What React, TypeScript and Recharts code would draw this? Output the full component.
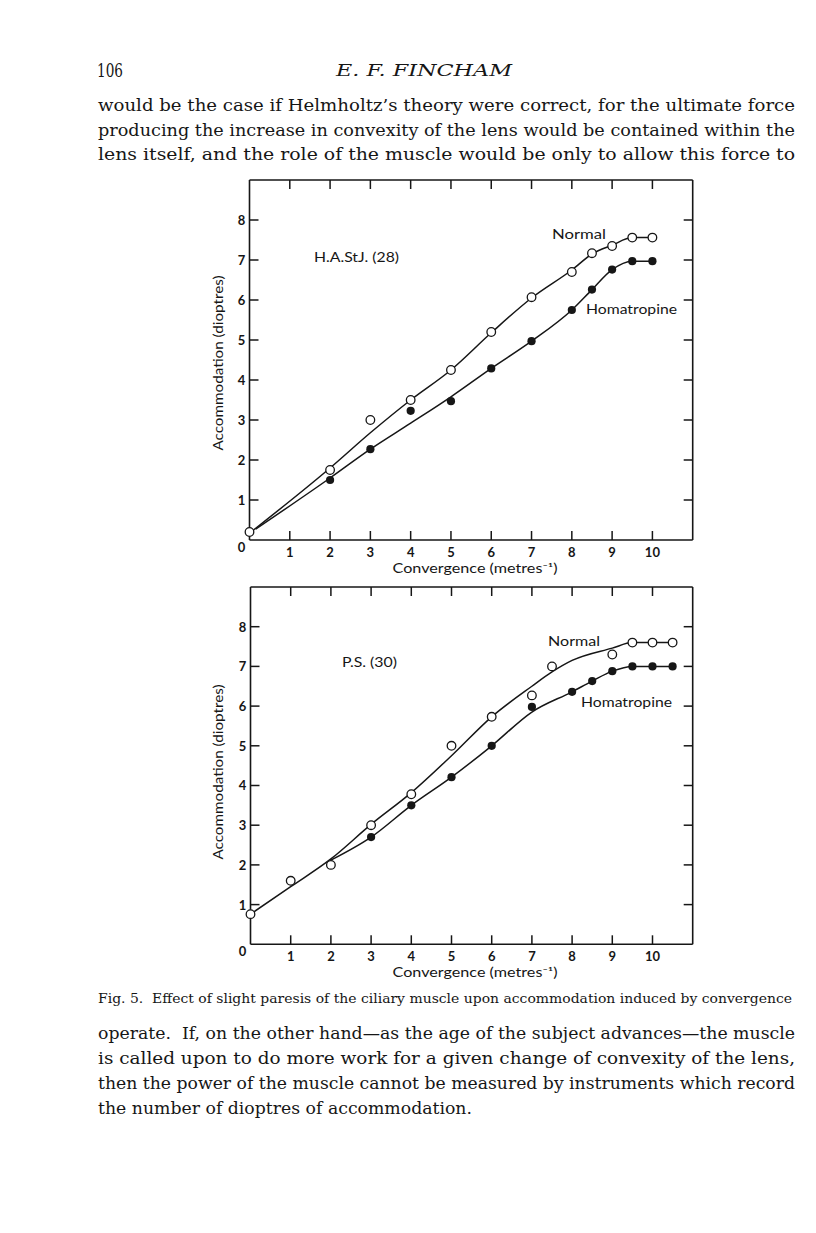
import React from "react"
import { ComposedChart, Line, Scatter, XAxis, YAxis } from "recharts"

const convTicks = [1, 2, 3, 4, 5, 6, 7, 8, 9, 10]
const accTicks = [0, 1, 2, 3, 4, 5, 6, 7, 8]
const accTicksRight = [1, 2, 3, 4, 5, 6, 7, 8]

// H.A.StJ. (28)
const hasNormalConv = [0, 2, 3, 4, 5, 6, 7, 8, 8.5, 9, 9.5, 10]
const hasNormalAcc = [0.2, 1.75, 3.0, 3.5, 4.25, 5.2, 6.07, 6.7, 7.17, 7.35, 7.56, 7.56]
const hasHomatConv = [2, 3, 4, 5, 6, 7, 8, 8.5, 9, 9.5, 10]
const hasHomatAcc = [1.5, 2.27, 3.23, 3.47, 4.29, 4.97, 5.75, 6.26, 6.76, 6.97, 6.97]
const hasNormalFitConv = [0.1, 2, 3, 4, 5, 6, 7, 8, 8.5, 9, 9.5, 10]
const hasNormalFitAcc = [0.25, 1.8, 2.68, 3.5, 4.25, 5.18, 6.05, 6.75, 7.15, 7.37, 7.56, 7.56]
const hasHomatFitConv = [0.15, 2, 3, 4, 5, 6, 7, 8, 8.5, 9, 9.5, 10]
const hasHomatFitAcc = [0.27, 1.55, 2.27, 2.92, 3.58, 4.29, 4.97, 5.75, 6.26, 6.76, 6.97, 6.97]

// P.S. (30)
const psNormalConv = [0, 1, 2, 3, 4, 5, 6, 7, 7.5, 9, 9.5, 10, 10.5]
const psNormalAcc = [0.76, 1.6, 2.0, 3.0, 3.78, 5.0, 5.73, 6.27, 7.0, 7.3, 7.6, 7.6, 7.6]
const psHomatConv = [3, 4, 5, 6, 7, 8, 8.5, 9, 9.5, 10, 10.5]
const psHomatAcc = [2.7, 3.5, 4.21, 5.0, 5.98, 6.36, 6.63, 6.88, 7.0, 7.0, 7.0]
const psNormalFitConv = [0, 1, 2, 3, 4, 5, 6, 7, 7.5, 8, 9, 9.5, 10, 10.5]
const psNormalFitAcc = [0.76, 1.45, 2.15, 3.02, 3.82, 4.75, 5.73, 6.5, 6.86, 7.15, 7.46, 7.6, 7.6, 7.6]
const psHomatFitConv = [2, 3, 4, 5, 6, 7, 8, 8.5, 9, 9.5, 10, 10.5]
const psHomatFitAcc = [2.12, 2.7, 3.5, 4.21, 5.0, 5.85, 6.36, 6.63, 6.88, 7.0, 7.0, 7.0]

const pageTop = ["106", "E. F. FINCHAM"]
const paraBefore = [
  "would be the case if Helmholtz\u2019s theory were correct, for the ultimate force",
  "producing the increase in convexity of the lens would be contained within the",
  "lens itself, and the role of the muscle would be only to allow this force to",
]
const caption = "Fig. 5.  Effect of slight paresis of the ciliary muscle upon accommodation induced by convergence"
const paraAfter = [
  "operate.  If, on the other hand\u2014as the age of the subject advances\u2014the muscle",
  "is called upon to do more work for a given change of convexity of the lens,",
  "then the power of the muscle cannot be measured by instruments which record",
  "the number of dioptres of accommodation.",
]

const ink = "#161616"
const sans = "Lato, 'Open Sans', sans-serif"
const serif = "'DejaVu Serif', serif"

const pts = (xs: number[], ys: number[]) => xs.map((x, i) => ({ x, y: ys[i] }))

const openDot = (p: any) => (
  <circle cx={p.cx} cy={p.cy} r={4.3} fill="#fff" stroke={ink} strokeWidth={1.3} />
)
const fullDot = (p: any) => <circle cx={p.cx} cy={p.cy} r={4.1} fill={ink} />

const leftTick = (p: any) => (
  <g>
    {p.payload.value !== 0 && <line x1={p.x} x2={p.x + 9} y1={p.y} y2={p.y} stroke={ink} strokeWidth={1.5} />}
    <text x={p.x - 8} y={p.payload.value === 0 ? p.y + 7 : p.y} textAnchor="middle" dominantBaseline="central"
      fontFamily={sans} fontWeight={700} fontSize={13} fill={ink}>{p.payload.value}</text>
  </g>
)
const rightTick = (p: any) => <line x1={p.x} x2={p.x - 9} y1={p.y} y2={p.y} stroke={ink} strokeWidth={1.5} />
const topTick = (p: any) => <line x1={p.x} x2={p.x} y1={p.y} y2={p.y + 9} stroke={ink} strokeWidth={1.5} />
const bottomTick = (p: any) => (
  <g>
    <line x1={p.x} x2={p.x} y1={p.y} y2={p.y - 9} stroke={ink} strokeWidth={1.5} />
    <text x={p.x} y={p.y + 12} textAnchor="middle" dominantBaseline="central"
      fontFamily={sans} fontWeight={700} fontSize={13} fill={ink}>{p.payload.value}</text>
  </g>
)

type PlotProps = {
  plotLeft: number
  plotTop: number
  plotW: number
  plotH: number
  normal: { x: number; y: number }[]
  homat: { x: number; y: number }[]
  normalFit: { x: number; y: number }[]
  homatFit: { x: number; y: number }[]
}

// axis band sizes (the box is drawn by the four axis lines)
const topBand = 20
const bottomBand = 30
const leftBand = 30
const rightBand = 10

function AccommodationPlot({ plotLeft, plotTop, plotW, plotH, normal, homat, normalFit, homatFit }: PlotProps) {
  const boxLeft = 150
  const boxTop = plotTop - topBand
  const width = 600
  const height = plotH + topBand + bottomBand + 30
  const ml = plotLeft - boxLeft - leftBand
  const mr = width - (plotLeft - boxLeft) - plotW - rightBand
  const axisLine = { stroke: ink, strokeWidth: 1.6 }
  return (
    <div style={{ position: "absolute", left: boxLeft, top: boxTop, width, height }}>
      <ComposedChart width={width} height={height}
        margin={{ top: 0, left: ml, right: mr, bottom: 30 }}>
        <XAxis xAxisId="b" orientation="bottom" type="number" dataKey="x" domain={[0, 11]} ticks={convTicks}
          interval={0} height={bottomBand} tickSize={0} tickMargin={0} tickLine={false} axisLine={axisLine} tick={bottomTick} />
        <XAxis xAxisId="t" orientation="top" type="number" dataKey="x" domain={[0, 11]} ticks={convTicks}
          interval={0} height={topBand} tickSize={0} tickMargin={0} tickLine={false} axisLine={axisLine} tick={topTick} />
        <YAxis yAxisId="l" orientation="left" type="number" domain={[0, 9]} ticks={accTicks}
          interval={0} width={leftBand} tickSize={0} tickMargin={0} tickLine={false} axisLine={axisLine} tick={leftTick} />
        <YAxis yAxisId="r" orientation="right" type="number" domain={[0, 9]} ticks={accTicksRight}
          interval={0} width={rightBand} tickSize={0} tickMargin={0} tickLine={false} axisLine={axisLine} tick={rightTick} />
        {/* invisible copy so the top and right axes have a series bound to them */}
        <Line xAxisId="t" yAxisId="r" data={normalFit} dataKey="y" type="monotone" stroke="none"
          dot={false} activeDot={false} legendType="none" isAnimationActive={false} />
        <Line xAxisId="b" yAxisId="l" data={normalFit} dataKey="y" type="monotone" stroke={ink}
          strokeWidth={1.5} dot={false} isAnimationActive={false} />
        <Line xAxisId="b" yAxisId="l" data={homatFit} dataKey="y" type="monotone" stroke={ink}
          strokeWidth={1.5} dot={false} isAnimationActive={false} />
        <Scatter xAxisId="b" yAxisId="l" data={normal} dataKey="y" shape={openDot} isAnimationActive={false} />
        <Scatter xAxisId="b" yAxisId="l" data={homat} dataKey="y" shape={fullDot} isAnimationActive={false} />
      </ComposedChart>
    </div>
  )
}

function T(props: { x: number; y: number; len?: number; size: number; font?: string; italic?: boolean; anchor?: string; rotate?: boolean; children: string }) {
  const { x, y, len, size, font = serif, italic, anchor = "start", rotate, children } = props
  return (
    <text x={x} y={y} textLength={len} lengthAdjust={len ? "spacingAndGlyphs" : undefined} fontSize={size}
      fontFamily={font} fontStyle={italic ? "italic" : "normal"} textAnchor={anchor} fill={ink}
      dominantBaseline="central" transform={rotate ? `rotate(-90 ${x} ${y})` : undefined}
      style={{ whiteSpace: "pre" }}>
      {children}
    </text>
  )
}

export default function App() {
  return (
    <div style={{ position: "absolute", left: 0, top: 0, width: 816, height: 1233, background: "#fff", overflow: "hidden" }}>
      <AccommodationPlot plotLeft={249.5} plotTop={180} plotW={443.2} plotH={360}
        normal={pts(hasNormalConv, hasNormalAcc)} homat={pts(hasHomatConv, hasHomatAcc)}
        normalFit={pts(hasNormalFitConv, hasNormalFitAcc)} homatFit={pts(hasHomatFitConv, hasHomatFitAcc)} />
      <AccommodationPlot plotLeft={250.5} plotTop={586.7} plotW={442.2} plotH={357.3}
        normal={pts(psNormalConv, psNormalAcc)} homat={pts(psHomatConv, psHomatAcc)}
        normalFit={pts(psNormalFitConv, psNormalFitAcc)} homatFit={pts(psHomatFitConv, psHomatFitAcc)} />
      <svg width={816} height={1233} style={{ position: "absolute", left: 0, top: 0, pointerEvents: "none" }}>
        <T x={97} y={70} len={26} size={18}>{pageTop[0]}</T>
        <T x={336} y={70} len={176} size={17} italic>{pageTop[1]}</T>
        {paraBefore.map((s, i) => (
          <T key={i} x={98} y={105 + i * 24.5} len={697} size={17}>{s}</T>
        ))}
        <T x={98} y={998} len={694} size={12.5}>{caption}</T>
        {paraAfter.map((s, i) => (
          <T key={i} x={98} y={1033 + i * 25} len={i === 3 ? 374 : 697} size={17}>{s}</T>
        ))}

        <T x={218} y={363} len={175} size={13} font={sans} anchor="middle" rotate>Accommodation (dioptres)</T>
        <T x={475} y={568} len={165} size={13} font={sans} anchor="middle">{"Convergence (metres\u207B\u00B9)"}</T>
        <T x={314} y={257} len={85} size={13} font={sans}>H.A.StJ. (28)</T>
        <T x={552} y={234} len={54} size={13} font={sans}>Normal</T>
        <T x={586} y={309} len={91} size={13} font={sans}>Homatropine</T>

        <T x={218} y={772} len={175} size={13} font={sans} anchor="middle" rotate>Accommodation (dioptres)</T>
        <T x={475} y={972} len={165} size={13} font={sans} anchor="middle">{"Convergence (metres\u207B\u00B9)"}</T>
        <T x={342} y={662} len={55} size={13} font={sans}>P.S. (30)</T>
        <T x={548} y={641} len={52} size={13} font={sans}>Normal</T>
        <T x={581} y={702} len={91} size={13} font={sans}>Homatropine</T>
      </svg>
    </div>
  )
}
